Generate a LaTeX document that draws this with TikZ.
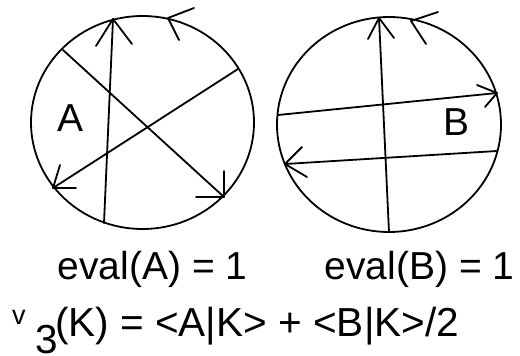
\documentclass[tikz,border=0pt]{standalone}
\usepackage{fontspec}
\setmainfont{Liberation Sans}
\begin{document}
\begin{tikzpicture}[x=1pt,y=-1pt,
  stroke/.style={line width=1.8pt,line cap=round,line join=round},
  txt/.style={anchor=base west,inner sep=0pt,font=\fontsize{39}{47}\selectfont},
  bigtxt/.style={anchor=base west,inner sep=0pt,font=\fontsize{40.5}{48}\selectfont}]
\useasboundingbox (0,0) rectangle (520,356);
% circle A
\draw[stroke] (142.5,122.5) ellipse [x radius=111.5, y radius=106.5];
\coordinate (a1s) at (104,223); \coordinate (a1t) at (113,19);
\coordinate (a2s) at (63,50);   \coordinate (a2t) at (224,197);
\coordinate (a3s) at (238,69);  \coordinate (a3t) at (53,188);
\coordinate (act) at (168,18);
\draw[stroke] (a1s) -- (a1t);
\draw[stroke] (96,46) -- (a1t) -- (132,44);
\draw[stroke] (a2s) -- (a2t);
\draw[stroke] (196,197) -- (a2t) -- (224,171);
\draw[stroke] (a3s) -- (a3t);
\draw[stroke] (76,188) -- (a3t) -- (60,165);
\draw[stroke] (194,8) -- (act) -- (179,40);
\node[txt] (labA) at (57,131) {A};
% circle B
\draw[stroke] (389,124.5) ellipse [x radius=112, y radius=107.5];
\coordinate (b1s) at (389,232); \coordinate (b1t) at (379,18);
\coordinate (b2s) at (278,115); \coordinate (b2t) at (497,93);
\coordinate (b3s) at (497,151); \coordinate (b3t) at (285,164);
\coordinate (bct) at (411,21);
\draw[stroke] (b1s) -- (b1t);
\draw[stroke] (368,39) -- (b1t) -- (394,38);
\draw[stroke] (b2s) -- (b2t);
\draw[stroke] (477,85) -- (b2t) -- (485,107);
\draw[stroke] (b3s) -- (b3t);
\draw[stroke] (302,147) -- (b3t) -- (307,177);
\draw[stroke] (438,12) -- (bct) -- (426,44);
\node[txt] (labB) at (443,135) {B};
% texts
\node[txt] (evA) at (57.5,279) {eval(A) = 1};
\node[txt] (evB) at (324.5,279) {eval(B) = 1};
\node[txt,font=\fontsize{27}{31}\selectfont] (v) at (12,324) {v};
\node[bigtxt,text depth=0pt] (three) at (35,353) {3};
\node[bigtxt] (rest) at (55,336) {(K) = <A|K> + <B|K>/2};
\end{tikzpicture}
\end{document}
